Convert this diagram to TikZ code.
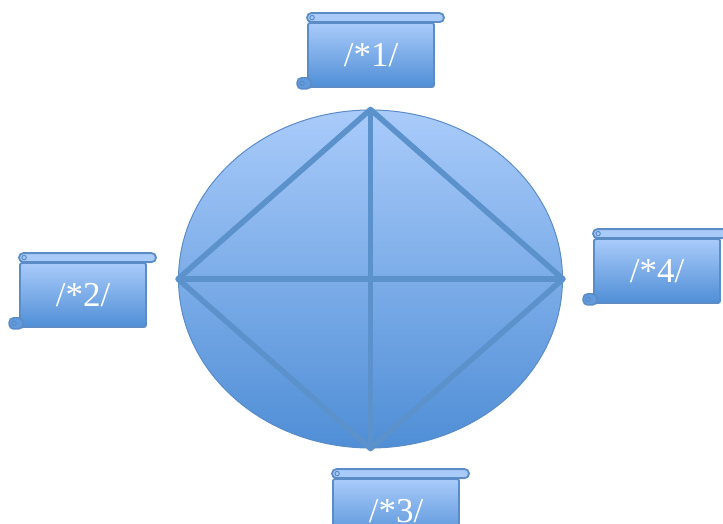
\documentclass[tikz,border=0pt]{standalone}
\usepackage{fontspec}
\setmainfont{Liberation Serif}
\usepackage{tikz}
\usetikzlibrary{shapes.geometric}
\definecolor{skytop}{HTML}{A9CBFA}
\definecolor{skybot}{HTML}{4F8ED6}
\definecolor{rim}{HTML}{5B8CC6}
\definecolor{bar}{HTML}{5C92CB}
\tikzset{
  globe/.style={ellipse, draw=rim, line width=1pt, top color=skytop, bottom color=skybot,
                minimum width=384, minimum height=338, inner sep=0pt},
  spoke/.style={draw=bar, line width=5.5pt, line join=round},
  scrollbody/.style={draw=rim, line width=1.8pt, top color=skytop, bottom color=skybot,
                rounded corners=2pt, minimum width=126, minimum height=64, inner sep=0pt,
                text=white, font=\fontsize{35}{38}\selectfont},
  roll/.style={draw=rim, line width=1.8pt, fill=skytop, rounded corners=4.2pt},
  curl/.style={draw=rim, line width=1.6pt, fill=skybot!80!skytop, rounded corners=4.5pt},
}
% top roll and bottom curl of a scroll
\newcommand{\rollup}[1]{%
  \draw[roll] ([yshift=9pt]#1.north west) rectangle ([xshift=9pt]#1.north east);
  \draw[rim, line width=1pt] ([xshift=5pt,yshift=4.5pt]#1.north west) circle (2.2pt);
  \draw[curl] ([xshift=-10pt,yshift=-1pt]#1.south west) rectangle ([xshift=4pt,yshift=10pt]#1.south west);
  \draw[rim, line width=1pt] ([xshift=-5pt,yshift=4.5pt]#1.south west) circle (2.2pt);
}

\begin{document}
\begin{tikzpicture}[x=1pt, y=-1pt]
  \useasboundingbox (0,0) rectangle (723,524);
  \clip (0,0) rectangle (723,524);

  \node[globe] (g) at (370.5,279) {};
  \draw[spoke] (g.north) -- (g.south);
  \draw[spoke] (g.west) -- (g.east);
  \draw[spoke] (g.north) -- (g.east) -- (g.south) -- (g.west) -- cycle;

  \node[scrollbody] (s1) at (371,55) {/*1/};
  \node[scrollbody] (s2) at (83,295) {/*2/};
  \node[scrollbody] (s3) at (396,511) {/*3/};
  \node[scrollbody] (s4) at (657,271) {/*4/};
  \rollup{s1} \rollup{s2} \rollup{s3} \rollup{s4}
\end{tikzpicture}
\end{document}
